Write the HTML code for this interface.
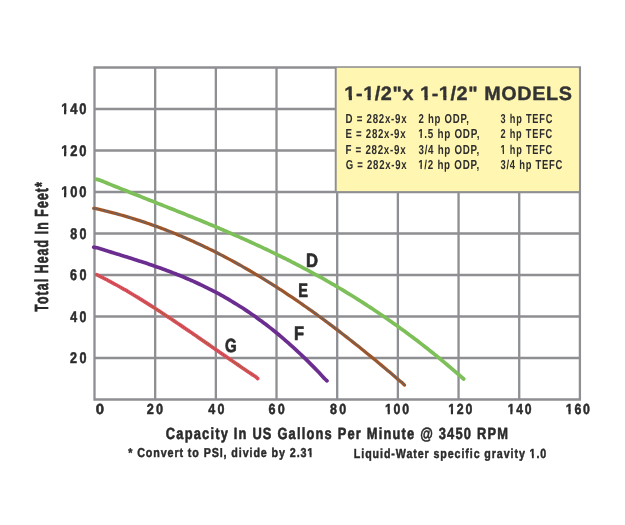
<!DOCTYPE html><html><head><meta charset="utf-8"><style>html,body{margin:0;padding:0;background:#fff;width:625px;height:525px;overflow:hidden}svg{display:block;will-change:transform}text{font-family:"Liberation Sans",sans-serif;font-weight:bold;text-rendering:geometricPrecision}</style></head><body>
<svg width="625" height="525" viewBox="0 0 625 525">
<rect width="625" height="525" fill="#fff"/>
<path d="M94.50,66.35V400.65M155.18,66.35V400.65M215.85,66.35V400.65M276.52,66.35V400.65M337.20,192.00V400.65M397.88,192.00V400.65M458.55,192.00V400.65M519.22,192.00V400.65M579.90,66.35V400.65M335.90,66.35V192.00M93.35,399.50H581.05M93.35,358.00H581.05M93.35,316.50H581.05M93.35,275.00H581.05M93.35,233.50H581.05M93.35,192.00H581.05M93.35,150.50H335.90M93.35,109.00H335.90M93.35,67.50H581.05" stroke="#8e8f92" stroke-width="2.3" fill="none"/>
<rect x="336.7" y="67.8" width="242.10" height="123.30" fill="#fff6b2"/>
<defs>
<path id="cD" d="M96.30,179.20 C96.92,179.37 98.72,179.76 100.00,180.20 C101.28,180.64 102.67,181.30 104.00,181.85 C105.33,182.40 106.67,182.95 108.00,183.49 C109.33,184.04 110.67,184.58 112.00,185.12 C113.33,185.66 114.67,186.20 116.00,186.74 C117.33,187.28 118.67,187.82 120.00,188.36 C121.33,188.89 122.67,189.43 124.00,189.96 C125.33,190.50 126.67,191.03 128.00,191.56 C129.33,192.10 130.67,192.63 132.00,193.16 C133.33,193.69 134.67,194.22 136.00,194.75 C137.33,195.28 138.67,195.81 140.00,196.34 C141.33,196.87 142.67,197.40 144.00,197.93 C145.33,198.45 146.67,198.98 148.00,199.51 C149.33,200.04 150.67,200.57 152.00,201.09 C153.33,201.62 154.67,202.15 156.00,202.68 C157.33,203.20 158.67,203.73 160.00,204.26 C161.33,204.79 162.67,205.32 164.00,205.85 C165.33,206.38 166.67,206.90 168.00,207.43 C169.33,207.96 170.67,208.50 172.00,209.03 C173.33,209.56 174.67,210.09 176.00,210.62 C177.33,211.15 178.67,211.69 180.00,212.22 C181.33,212.76 182.67,213.29 184.00,213.83 C185.33,214.37 186.67,214.90 188.00,215.44 C189.33,215.98 190.67,216.52 192.00,217.06 C193.33,217.60 194.67,218.15 196.00,218.69 C197.33,219.23 198.67,219.78 200.00,220.33 C201.33,220.87 202.67,221.42 204.00,221.97 C205.33,222.52 206.67,223.08 208.00,223.63 C209.33,224.19 210.67,224.74 212.00,225.30 C213.33,225.86 214.67,226.42 216.00,226.98 C217.33,227.54 218.67,228.10 220.00,228.67 C221.33,229.24 222.67,229.80 224.00,230.38 C225.33,230.95 226.67,231.52 228.00,232.09 C229.33,232.67 230.67,233.25 232.00,233.83 C233.33,234.41 234.67,234.99 236.00,235.58 C237.33,236.16 238.67,236.75 240.00,237.34 C241.33,237.93 242.67,238.53 244.00,239.12 C245.33,239.72 246.67,240.32 248.00,240.92 C249.33,241.52 250.67,242.13 252.00,242.74 C253.33,243.35 254.67,243.96 256.00,244.57 C257.33,245.19 258.67,245.81 260.00,246.43 C261.33,247.05 262.67,247.67 264.00,248.30 C265.33,248.93 266.67,249.56 268.00,250.20 C269.33,250.83 270.67,251.47 272.00,252.11 C273.33,252.76 274.67,253.40 276.00,254.05 C277.33,254.70 278.67,255.35 280.00,256.01 C281.33,256.67 282.67,257.33 284.00,258.00 C285.33,258.66 286.67,259.33 288.00,260.00 C289.33,260.67 290.67,261.35 292.00,262.03 C293.33,262.71 294.67,263.40 296.00,264.09 C297.33,264.78 298.67,265.47 300.00,266.17 C301.33,266.87 302.67,267.57 304.00,268.28 C305.33,268.98 306.67,269.69 308.00,270.41 C309.33,271.12 310.67,271.84 312.00,272.57 C313.33,273.29 314.67,274.02 316.00,274.76 C317.33,275.49 318.67,276.23 320.00,276.97 C321.33,277.71 322.67,278.46 324.00,279.22 C325.33,279.97 326.67,280.73 328.00,281.49 C329.33,282.25 330.67,283.02 332.00,283.79 C333.33,284.56 334.67,285.34 336.00,286.12 C337.33,286.91 338.67,287.69 340.00,288.49 C341.33,289.28 342.67,290.08 344.00,290.88 C345.33,291.69 346.67,292.49 348.00,293.31 C349.33,294.12 350.67,294.94 352.00,295.77 C353.33,296.59 354.67,297.42 356.00,298.26 C357.33,299.09 358.67,299.93 360.00,300.78 C361.33,301.63 362.67,302.48 364.00,303.34 C365.33,304.19 366.67,305.06 368.00,305.93 C369.33,306.80 370.67,307.67 372.00,308.55 C373.33,309.43 374.67,310.32 376.00,311.21 C377.33,312.10 378.67,313.00 380.00,313.91 C381.33,314.81 382.67,315.72 384.00,316.64 C385.33,317.55 386.67,318.47 388.00,319.40 C389.33,320.33 390.67,321.27 392.00,322.21 C393.33,323.15 394.67,324.09 396.00,325.04 C397.33,326.00 398.67,326.96 400.00,327.92 C401.33,328.89 402.67,329.86 404.00,330.84 C405.33,331.81 406.67,332.80 408.00,333.79 C409.33,334.78 410.67,335.77 412.00,336.78 C413.33,337.78 414.67,338.79 416.00,339.81 C417.33,340.82 418.67,341.84 420.00,342.87 C421.33,343.90 422.67,344.94 424.00,345.98 C425.33,347.02 426.67,348.07 428.00,349.13 C429.33,350.18 430.67,351.24 432.00,352.31 C433.33,353.38 434.67,354.46 436.00,355.54 C437.33,356.62 438.67,357.71 440.00,358.80 C441.33,359.90 442.67,361.00 444.00,362.11 C445.33,363.22 446.67,364.34 448.00,365.46 C449.33,366.58 450.67,367.71 452.00,368.85 C453.33,369.99 454.67,371.13 456.00,372.28 C457.33,373.43 458.72,374.64 460.00,375.76 C461.28,376.88 463.08,378.46 463.70,379.00"/>
<path id="cE" d="M93.75,208.30 C94.29,208.40 95.79,208.63 97.00,208.89 C98.21,209.14 99.67,209.50 101.00,209.82 C102.33,210.13 103.67,210.45 105.00,210.78 C106.33,211.11 107.67,211.44 109.00,211.78 C110.33,212.12 111.67,212.47 113.00,212.82 C114.33,213.17 115.67,213.53 117.00,213.89 C118.33,214.25 119.67,214.62 121.00,215.00 C122.33,215.38 123.67,215.76 125.00,216.15 C126.33,216.53 127.67,216.93 129.00,217.33 C130.33,217.73 131.67,218.14 133.00,218.55 C134.33,218.96 135.67,219.38 137.00,219.81 C138.33,220.23 139.67,220.66 141.00,221.10 C142.33,221.54 143.67,221.98 145.00,222.43 C146.33,222.88 147.67,223.34 149.00,223.80 C150.33,224.26 151.67,224.73 153.00,225.20 C154.33,225.68 155.67,226.16 157.00,226.65 C158.33,227.14 159.67,227.63 161.00,228.13 C162.33,228.63 163.67,229.14 165.00,229.65 C166.33,230.16 167.67,230.68 169.00,231.21 C170.33,231.73 171.67,232.26 173.00,232.80 C174.33,233.34 175.67,233.88 177.00,234.43 C178.33,234.98 179.67,235.54 181.00,236.10 C182.33,236.67 183.67,237.24 185.00,237.81 C186.33,238.39 187.67,238.97 189.00,239.56 C190.33,240.15 191.67,240.74 193.00,241.34 C194.33,241.94 195.67,242.55 197.00,243.17 C198.33,243.78 199.67,244.40 201.00,245.02 C202.33,245.65 203.67,246.28 205.00,246.92 C206.33,247.56 207.67,248.21 209.00,248.86 C210.33,249.51 211.67,250.17 213.00,250.83 C214.33,251.49 215.67,252.16 217.00,252.84 C218.33,253.52 219.67,254.20 221.00,254.89 C222.33,255.58 223.67,256.27 225.00,256.97 C226.33,257.67 227.67,258.38 229.00,259.10 C230.33,259.81 231.67,260.53 233.00,261.25 C234.33,261.98 235.67,262.71 237.00,263.45 C238.33,264.19 239.67,264.93 241.00,265.68 C242.33,266.43 243.67,267.19 245.00,267.95 C246.33,268.72 247.67,269.48 249.00,270.26 C250.33,271.03 251.67,271.81 253.00,272.60 C254.33,273.39 255.67,274.18 257.00,274.98 C258.33,275.78 259.67,276.58 261.00,277.39 C262.33,278.20 263.67,279.02 265.00,279.84 C266.33,280.66 267.67,281.49 269.00,282.33 C270.33,283.16 271.67,284.00 273.00,284.84 C274.33,285.69 275.67,286.54 277.00,287.40 C278.33,288.26 279.67,289.12 281.00,289.99 C282.33,290.86 283.67,291.73 285.00,292.61 C286.33,293.49 287.67,294.38 289.00,295.27 C290.33,296.16 291.67,297.06 293.00,297.96 C294.33,298.86 295.67,299.77 297.00,300.68 C298.33,301.59 299.67,302.51 301.00,303.44 C302.33,304.36 303.67,305.29 305.00,306.23 C306.33,307.16 307.67,308.10 309.00,309.05 C310.33,309.99 311.67,310.95 313.00,311.90 C314.33,312.86 315.67,313.82 317.00,314.79 C318.33,315.75 319.67,316.73 321.00,317.70 C322.33,318.68 323.67,319.66 325.00,320.65 C326.33,321.64 327.67,322.63 329.00,323.63 C330.33,324.62 331.67,325.63 333.00,326.63 C334.33,327.64 335.67,328.65 337.00,329.67 C338.33,330.69 339.67,331.71 341.00,332.74 C342.33,333.76 343.67,334.79 345.00,335.83 C346.33,336.87 347.67,337.91 349.00,338.95 C350.33,340.00 351.67,341.05 353.00,342.10 C354.33,343.15 355.67,344.21 357.00,345.28 C358.33,346.34 359.67,347.41 361.00,348.48 C362.33,349.55 363.67,350.63 365.00,351.71 C366.33,352.79 367.67,353.87 369.00,354.96 C370.33,356.05 371.67,357.15 373.00,358.24 C374.33,359.34 375.67,360.44 377.00,361.55 C378.33,362.65 379.67,363.76 381.00,364.87 C382.33,365.99 383.67,367.10 385.00,368.23 C386.33,369.35 387.67,370.47 389.00,371.60 C390.33,372.73 391.67,373.86 393.00,374.99 C394.33,376.13 395.67,377.27 397.00,378.41 C398.33,379.55 399.75,380.73 401.00,381.85 C402.25,382.96 403.92,384.56 404.50,385.10"/>
<path id="cF" d="M93.75,247.20 C94.29,247.30 95.79,247.47 97.00,247.78 C98.21,248.08 99.67,248.62 101.00,249.03 C102.33,249.45 103.67,249.87 105.00,250.28 C106.33,250.70 107.67,251.11 109.00,251.52 C110.33,251.93 111.67,252.34 113.00,252.75 C114.33,253.17 115.67,253.58 117.00,253.99 C118.33,254.40 119.67,254.81 121.00,255.22 C122.33,255.64 123.67,256.05 125.00,256.46 C126.33,256.88 127.67,257.29 129.00,257.71 C130.33,258.13 131.67,258.55 133.00,258.97 C134.33,259.39 135.67,259.82 137.00,260.25 C138.33,260.68 139.67,261.11 141.00,261.54 C142.33,261.97 143.67,262.41 145.00,262.85 C146.33,263.29 147.67,263.74 149.00,264.19 C150.33,264.64 151.67,265.09 153.00,265.55 C154.33,266.01 155.67,266.47 157.00,266.94 C158.33,267.41 159.67,267.88 161.00,268.36 C162.33,268.84 163.67,269.33 165.00,269.82 C166.33,270.31 167.67,270.81 169.00,271.31 C170.33,271.82 171.67,272.33 173.00,272.85 C174.33,273.37 175.67,273.89 177.00,274.42 C178.33,274.95 179.67,275.49 181.00,276.04 C182.33,276.59 183.67,277.14 185.00,277.71 C186.33,278.27 187.67,278.84 189.00,279.42 C190.33,280.00 191.67,280.59 193.00,281.18 C194.33,281.78 195.67,282.39 197.00,283.00 C198.33,283.62 199.67,284.24 201.00,284.87 C202.33,285.51 203.67,286.15 205.00,286.80 C206.33,287.46 207.67,288.12 209.00,288.79 C210.33,289.47 211.67,290.15 213.00,290.84 C214.33,291.54 215.67,292.24 217.00,292.96 C218.33,293.67 219.67,294.40 221.00,295.14 C222.33,295.87 223.67,296.62 225.00,297.38 C226.33,298.14 227.67,298.91 229.00,299.69 C230.33,300.48 231.67,301.27 233.00,302.08 C234.33,302.88 235.67,303.70 237.00,304.53 C238.33,305.36 239.67,306.20 241.00,307.06 C242.33,307.91 243.67,308.78 245.00,309.66 C246.33,310.54 247.67,311.43 249.00,312.33 C250.33,313.24 251.67,314.16 253.00,315.09 C254.33,316.02 255.67,316.96 257.00,317.92 C258.33,318.88 259.67,319.85 261.00,320.83 C262.33,321.82 263.67,322.82 265.00,323.83 C266.33,324.84 267.67,325.86 269.00,326.90 C270.33,327.94 271.67,328.99 273.00,330.06 C274.33,331.13 275.67,332.21 277.00,333.30 C278.33,334.39 279.67,335.50 281.00,336.63 C282.33,337.75 283.67,338.89 285.00,340.04 C286.33,341.19 287.67,342.36 289.00,343.54 C290.33,344.72 291.67,345.91 293.00,347.12 C294.33,348.33 295.67,349.56 297.00,350.79 C298.33,352.03 299.67,353.29 301.00,354.56 C302.33,355.83 303.67,357.11 305.00,358.41 C306.33,359.71 307.67,361.02 309.00,362.35 C310.33,363.68 311.67,365.02 313.00,366.38 C314.33,367.74 315.67,369.11 317.00,370.50 C318.33,371.89 319.67,373.29 321.00,374.71 C322.33,376.13 324.00,378.00 325.00,379.01 C326.00,380.03 326.67,380.50 327.00,380.80"/>
<path id="cG" d="M96.70,274.60 C97.25,274.88 98.78,275.65 100.00,276.27 C101.22,276.89 102.67,277.62 104.00,278.31 C105.33,279.00 106.67,279.70 108.00,280.41 C109.33,281.12 110.67,281.83 112.00,282.56 C113.33,283.28 114.67,284.01 116.00,284.75 C117.33,285.49 118.67,286.24 120.00,287.00 C121.33,287.75 122.67,288.52 124.00,289.29 C125.33,290.06 126.67,290.83 128.00,291.62 C129.33,292.40 130.67,293.19 132.00,293.99 C133.33,294.79 134.67,295.59 136.00,296.40 C137.33,297.21 138.67,298.03 140.00,298.85 C141.33,299.67 142.67,300.50 144.00,301.33 C145.33,302.16 146.67,303.00 148.00,303.84 C149.33,304.69 150.67,305.54 152.00,306.39 C153.33,307.24 154.67,308.10 156.00,308.96 C157.33,309.83 158.67,310.69 160.00,311.56 C161.33,312.43 162.67,313.31 164.00,314.19 C165.33,315.07 166.67,315.95 168.00,316.84 C169.33,317.72 170.67,318.61 172.00,319.50 C173.33,320.40 174.67,321.29 176.00,322.19 C177.33,323.09 178.67,323.99 180.00,324.90 C181.33,325.80 182.67,326.71 184.00,327.62 C185.33,328.52 186.67,329.44 188.00,330.35 C189.33,331.26 190.67,332.18 192.00,333.09 C193.33,334.01 194.67,334.93 196.00,335.85 C197.33,336.76 198.67,337.69 200.00,338.61 C201.33,339.53 202.67,340.45 204.00,341.37 C205.33,342.30 206.67,343.22 208.00,344.14 C209.33,345.07 210.67,345.99 212.00,346.92 C213.33,347.84 214.67,348.77 216.00,349.69 C217.33,350.62 218.67,351.54 220.00,352.46 C221.33,353.39 222.67,354.31 224.00,355.23 C225.33,356.16 226.67,357.08 228.00,358.00 C229.33,358.92 230.67,359.84 232.00,360.76 C233.33,361.67 234.67,362.59 236.00,363.51 C237.33,364.42 238.67,365.33 240.00,366.24 C241.33,367.16 242.67,368.07 244.00,368.97 C245.33,369.88 246.67,370.79 248.00,371.69 C249.33,372.59 250.67,373.49 252.00,374.39 C253.33,375.28 255.05,376.39 256.00,377.07 C256.95,377.76 257.42,378.26 257.70,378.50"/>
</defs>
<use href="#cD" stroke="#7dbf58" stroke-width="3.7" fill="none" stroke-linecap="round" stroke-linejoin="round"/>
<use href="#cE" stroke="#a65624" stroke-width="3.3" fill="none" stroke-linecap="round" stroke-linejoin="round"/>
<use href="#cE" stroke="#5d6470" stroke-width="1.6" fill="none" stroke-dasharray="1.3 1.2"/>
<use href="#cF" stroke="#6c2d91" stroke-width="3.7" fill="none" stroke-linecap="round" stroke-linejoin="round"/>
<use href="#cG" stroke="#dc5260" stroke-width="3.7" fill="none" stroke-linecap="round" stroke-linejoin="round"/>
<use href="#cG" stroke="#a4542e" stroke-width="1.6" fill="none" stroke-dasharray="1 1.3"/>
<g transform="translate(61.24,114.30) scale(0.8414,1) scale(0.125)"><text id="t_y140" font-size="122.824" letter-spacing="17.412" stroke="#2b2b2b" stroke-width="4.299" stroke-linejoin="round" fill="#2b2b2b">140</text><rect x="-2.66" y="-24.53" width="77.15" height="31.73" fill="#fff"/><rect x="26.52" y="-32.53" width="21.15" height="32.28" fill="#2b2b2b"/></g>
<g transform="translate(61.24,155.80) scale(0.8414,1) scale(0.125)"><text id="t_y120" font-size="122.824" letter-spacing="17.412" stroke="#2b2b2b" stroke-width="4.299" stroke-linejoin="round" fill="#2b2b2b">120</text><rect x="-2.66" y="-20.53" width="77.15" height="31.73" fill="#fff"/><rect x="26.52" y="-28.53" width="21.15" height="32.28" fill="#2b2b2b"/></g>
<g transform="translate(61.24,197.30) scale(0.8414,1) scale(0.125)"><text id="t_y100" font-size="122.824" letter-spacing="17.412" stroke="#2b2b2b" stroke-width="4.299" stroke-linejoin="round" fill="#2b2b2b">100</text><rect x="-2.66" y="-24.53" width="77.15" height="31.73" fill="#fff"/><rect x="26.52" y="-32.53" width="21.15" height="32.28" fill="#2b2b2b"/></g>
<g transform="translate(70.16,238.80) scale(0.8154,1) scale(0.125)"><text id="t_y80" font-size="122.824" letter-spacing="23.294" stroke="#2b2b2b" stroke-width="4.299" stroke-linejoin="round" fill="#2b2b2b">80</text></g>
<g transform="translate(70.03,280.30) scale(0.8224,1) scale(0.125)"><text id="t_y60" font-size="122.824" letter-spacing="23.059" stroke="#2b2b2b" stroke-width="4.299" stroke-linejoin="round" fill="#2b2b2b">60</text></g>
<g transform="translate(70.30,321.80) scale(0.8085,1) scale(0.125)"><text id="t_y40" font-size="122.824" letter-spacing="23.529" stroke="#2b2b2b" stroke-width="4.299" stroke-linejoin="round" fill="#2b2b2b">40</text></g>
<g transform="translate(70.03,363.30) scale(0.8224,1) scale(0.125)"><text id="t_y20" font-size="122.824" letter-spacing="23.059" stroke="#2b2b2b" stroke-width="4.299" stroke-linejoin="round" fill="#2b2b2b">20</text></g>
<g transform="translate(95.76,414.00) scale(1.0227,1) scale(0.125)"><text id="t_x0" font-size="116.184" letter-spacing="0.000" stroke="#2b2b2b" stroke-width="4.066" stroke-linejoin="round" fill="#2b2b2b">0</text></g>
<g transform="translate(146.65,414.00) scale(0.8727,1) scale(0.125)"><text id="t_x20" font-size="116.184" letter-spacing="22.118" stroke="#2b2b2b" stroke-width="4.066" stroke-linejoin="round" fill="#2b2b2b">20</text></g>
<g transform="translate(208.30,414.00) scale(0.8571,1) scale(0.125)"><text id="t_x40" font-size="116.184" letter-spacing="22.353" stroke="#2b2b2b" stroke-width="4.066" stroke-linejoin="round" fill="#2b2b2b">40</text></g>
<g transform="translate(268.51,414.00) scale(0.8642,1) scale(0.125)"><text id="t_x60" font-size="116.184" letter-spacing="21.882" stroke="#2b2b2b" stroke-width="4.066" stroke-linejoin="round" fill="#2b2b2b">60</text></g>
<g transform="translate(329.96,414.00) scale(0.8618,1) scale(0.125)"><text id="t_x80" font-size="116.184" letter-spacing="22.118" stroke="#2b2b2b" stroke-width="4.066" stroke-linejoin="round" fill="#2b2b2b">80</text></g>
<g transform="translate(385.03,414.00) scale(0.8488,1) scale(0.125)"><text id="t_x100" font-size="116.184" letter-spacing="16.353" stroke="#2b2b2b" stroke-width="4.066" stroke-linejoin="round" fill="#2b2b2b">100</text><rect x="-3.08" y="-21.46" width="74.06" height="31.06" fill="#fff"/><rect x="25.08" y="-29.46" width="20.01" height="31.49" fill="#2b2b2b"/></g>
<g transform="translate(448.23,414.00) scale(0.8488,1) scale(0.125)"><text id="t_x120" font-size="116.184" letter-spacing="16.353" stroke="#2b2b2b" stroke-width="4.066" stroke-linejoin="round" fill="#2b2b2b">120</text><rect x="-3.08" y="-21.46" width="74.06" height="31.06" fill="#fff"/><rect x="25.08" y="-29.46" width="20.01" height="31.49" fill="#2b2b2b"/></g>
<g transform="translate(507.74,414.00) scale(0.8378,1) scale(0.125)"><text id="t_x140" font-size="116.184" letter-spacing="16.353" stroke="#2b2b2b" stroke-width="4.066" stroke-linejoin="round" fill="#2b2b2b">140</text><rect x="-3.08" y="-21.46" width="74.06" height="31.06" fill="#fff"/><rect x="25.08" y="-29.46" width="20.01" height="31.49" fill="#2b2b2b"/></g>
<g transform="translate(565.83,414.00) scale(0.8488,1) scale(0.125)"><text id="t_x160" font-size="116.184" letter-spacing="16.353" stroke="#2b2b2b" stroke-width="4.066" stroke-linejoin="round" fill="#2b2b2b">160</text><rect x="-3.08" y="-21.46" width="74.06" height="31.06" fill="#fff"/><rect x="25.08" y="-29.46" width="20.01" height="31.49" fill="#2b2b2b"/></g>
<g transform="translate(165.83,439.30) scale(0.7957,1) scale(0.125)"><text id="t_xt" font-size="129.463" letter-spacing="11.962" stroke="#2b2b2b" stroke-width="4.531" stroke-linejoin="round" fill="#2b2b2b">Capacity In US Gallons Per Minute @ 3450 RPM</text></g>
<g transform="translate(128.24,457.30) scale(0.8338,1) scale(0.125)"><text id="t_f1" font-size="102.906" letter-spacing="8.592" stroke="#2b2b2b" stroke-width="3.602" stroke-linejoin="round" fill="#2b2b2b">* Convert to PSI, divide by 2.31</text><rect x="1714.71" y="-22.50" width="67.89" height="29.70" fill="#fff"/><rect x="1740.84" y="-30.50" width="17.72" height="29.90" fill="#2b2b2b"/></g>
<g transform="translate(353.86,457.50) scale(0.8142,1) scale(0.125)"><text id="t_f2" font-size="105.119" letter-spacing="8.824" stroke="#2b2b2b" stroke-width="3.679" stroke-linejoin="round" fill="#2b2b2b">Liquid-Water specific gravity 1.0</text><rect x="1723.02" y="-16.33" width="68.66" height="29.93" fill="#fff"/><rect x="1749.49" y="-24.33" width="18.10" height="30.17" fill="#2b2b2b"/></g>
<g transform="translate(306.04,266.80) scale(0.8560,1) scale(0.125)"><text id="t_lD" font-size="154.913" letter-spacing="0.000" stroke="#2b2b2b" stroke-width="5.422" stroke-linejoin="round" fill="#2b2b2b">D</text></g>
<g transform="translate(298.25,296.70) scale(0.7457,1) scale(0.125)"><text id="t_lE" font-size="157.126" letter-spacing="0.000" stroke="#2b2b2b" stroke-width="5.499" stroke-linejoin="round" fill="#2b2b2b">E</text></g>
<g transform="translate(294.07,340.00) scale(0.8344,1) scale(0.125)"><text id="t_lF" font-size="157.126" letter-spacing="0.000" stroke="#2b2b2b" stroke-width="5.499" stroke-linejoin="round" fill="#2b2b2b">F</text></g>
<g transform="translate(225.00,351.50) scale(0.7926,1) scale(0.125)"><text id="t_lG" font-size="152.700" letter-spacing="0.000" stroke="#2b2b2b" stroke-width="5.344" stroke-linejoin="round" fill="#2b2b2b">G</text></g>
<g transform="translate(344.37,100.40) scale(1.0257,1) scale(0.125)"><text id="t_bt" font-size="154.805" letter-spacing="4.407" stroke="#333333" stroke-width="3.096" stroke-linejoin="round" fill="#333333">1-1/2&quot;x 1-1/2&quot; MODELS</text><rect x="-0.65" y="-28.60" width="88.75" height="35.00" fill="#fff6b2"/><rect x="34.58" y="-36.60" width="24.34" height="34.95" fill="#333333"/><rect x="145.80" y="-28.60" width="88.75" height="35.00" fill="#fff6b2"/><rect x="181.04" y="-36.60" width="24.34" height="34.95" fill="#333333"/><rect x="589.91" y="-28.60" width="88.75" height="35.00" fill="#fff6b2"/><rect x="625.15" y="-36.60" width="24.34" height="34.95" fill="#333333"/><rect x="736.37" y="-28.60" width="88.75" height="35.00" fill="#fff6b2"/><rect x="771.60" y="-36.60" width="24.34" height="34.95" fill="#333333"/></g>
<g transform="translate(47.70,311.79) rotate(-90) scale(0.6511,1) scale(0.125)"><text id="t_yt" font-size="151.593" letter-spacing="13.307" stroke="#2b2b2b" stroke-width="5.306" stroke-linejoin="round" fill="#2b2b2b">Total Head In Feet*</text></g>
<g transform="translate(345.47,122.80) scale(0.7534,1) scale(0.125)"><text id="t_r00" font-size="103.490" letter-spacing="7.691" stroke="#2e2e2e" stroke-width="0.000" stroke-linejoin="round" fill="#2e2e2e">D = 282x-9x</text></g>
<g transform="translate(418.43,122.80) scale(0.7421,1) scale(0.125)"><text id="t_r01" font-size="103.490" letter-spacing="8.023" stroke="#2e2e2e" stroke-width="0.000" stroke-linejoin="round" fill="#2e2e2e">2 hp ODP,</text></g>
<g transform="translate(500.56,122.80) scale(0.7128,1) scale(0.125)"><text id="t_r02" font-size="103.490" letter-spacing="8.614" stroke="#2e2e2e" stroke-width="0.000" stroke-linejoin="round" fill="#2e2e2e">3 hp TEFC</text></g>
<g transform="translate(345.48,138.20) scale(0.7475,1) scale(0.125)"><text id="t_r10" font-size="103.490" letter-spacing="7.618" stroke="#2e2e2e" stroke-width="0.000" stroke-linejoin="round" fill="#2e2e2e">E = 282x-9x</text></g>
<g transform="translate(418.16,138.20) scale(0.7627,1) scale(0.125)"><text id="t_r11" font-size="103.490" letter-spacing="7.545" stroke="#2e2e2e" stroke-width="0.000" stroke-linejoin="round" fill="#2e2e2e">1.5 hp ODP,</text><rect x="-3.88" y="-21.76" width="66.58" height="29.76" fill="#fff6b2"/><rect x="24.15" y="-29.76" width="14.20" height="28.16" fill="#2e2e2e"/></g>
<g transform="translate(500.44,138.20) scale(0.7144,1) scale(0.125)"><text id="t_r12" font-size="103.490" letter-spacing="8.591" stroke="#2e2e2e" stroke-width="0.000" stroke-linejoin="round" fill="#2e2e2e">2 hp TEFC</text></g>
<g transform="translate(345.47,153.60) scale(0.7554,1) scale(0.125)"><text id="t_r20" font-size="103.490" letter-spacing="7.545" stroke="#2e2e2e" stroke-width="0.000" stroke-linejoin="round" fill="#2e2e2e">F = 282x-9x</text></g>
<g transform="translate(418.55,153.60) scale(0.7541,1) scale(0.125)"><text id="t_r21" font-size="103.490" letter-spacing="7.600" stroke="#2e2e2e" stroke-width="0.000" stroke-linejoin="round" fill="#2e2e2e">3/4 hp ODP,</text></g>
<g transform="translate(500.61,153.60) scale(0.7121,1) scale(0.125)"><text id="t_r22" font-size="103.490" letter-spacing="8.545" stroke="#2e2e2e" stroke-width="0.000" stroke-linejoin="round" fill="#2e2e2e">1 hp TEFC</text><rect x="-3.88" y="-16.96" width="68.16" height="29.76" fill="#fff6b2"/><rect x="24.15" y="-24.96" width="14.20" height="28.16" fill="#2e2e2e"/></g>
<g transform="translate(345.63,168.80) scale(0.7439,1) scale(0.125)"><text id="t_r30" font-size="103.490" letter-spacing="7.818" stroke="#2e2e2e" stroke-width="0.000" stroke-linejoin="round" fill="#2e2e2e">G = 282x-9x</text></g>
<g transform="translate(418.17,168.80) scale(0.7589,1) scale(0.125)"><text id="t_r31" font-size="103.490" letter-spacing="7.545" stroke="#2e2e2e" stroke-width="0.000" stroke-linejoin="round" fill="#2e2e2e">1/2 hp ODP,</text><rect x="-3.88" y="-18.56" width="66.58" height="29.76" fill="#fff6b2"/><rect x="24.15" y="-26.56" width="14.20" height="28.16" fill="#2e2e2e"/></g>
<g transform="translate(500.56,168.80) scale(0.7271,1) scale(0.125)"><text id="t_r32" font-size="103.490" letter-spacing="8.073" stroke="#2e2e2e" stroke-width="0.000" stroke-linejoin="round" fill="#2e2e2e">3/4 hp TEFC</text></g>
</svg></body></html>
